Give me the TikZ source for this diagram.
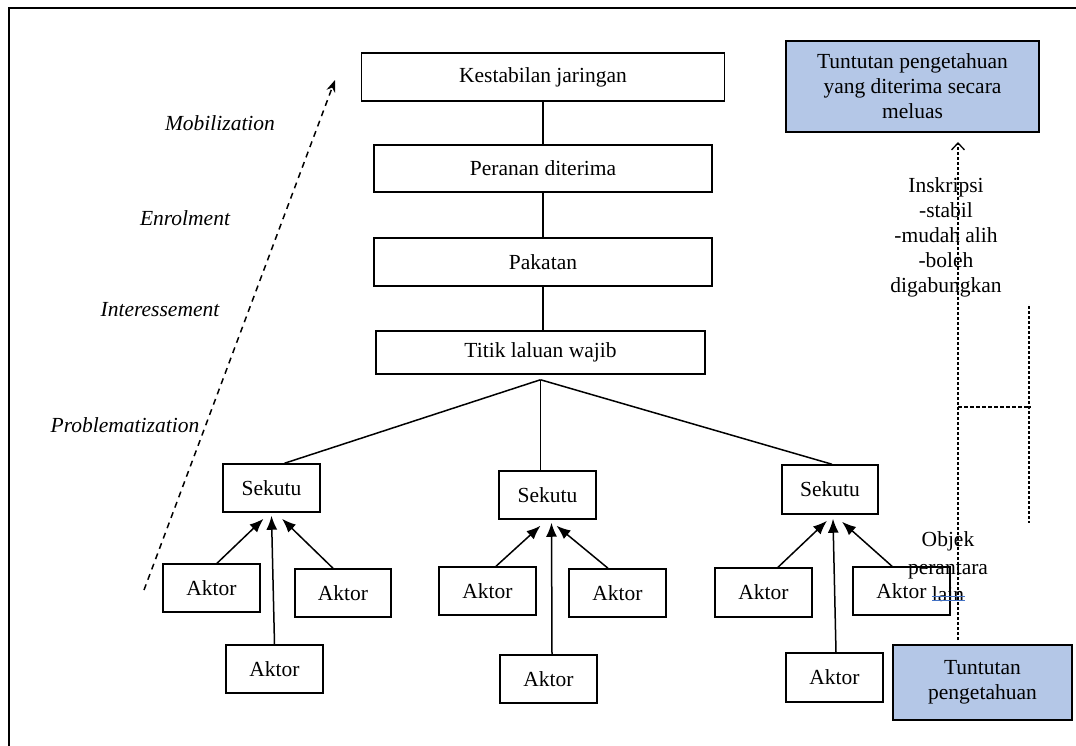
\documentclass[tikz,border=0pt]{standalone}
\usepackage{fontspec}
\setmainfont{Liberation Serif}
\usetikzlibrary{arrows.meta,calc}
\definecolor{boxblue}{HTML}{B4C7E7}
\definecolor{ulblue}{HTML}{4472C4}
\begin{document}
\begin{tikzpicture}[x=1pt,y=-1pt,
  txt/.style={font=\fontsize{21.5}{25}\selectfont},
  itl/.style={font=\fontsize{21.5}{25}\selectfont\itshape},
  box/.style={draw, line width=1.5pt, fill=white, inner sep=0pt, txt},
  bluebox/.style={box, fill=boxblue, align=center},
  link/.style={line width=1.5pt},
  push/.style={line width=1.5pt, -{Latex[length=14pt,width=11pt]}},
  phase/.style={line width=1.5pt, dash pattern=on 6pt off 5pt, -{Stealth[length=12pt,width=9pt]}},
  dotl/.style={line width=1.3pt, dash pattern=on 3pt off 2pt}]
\useasboundingbox (0,0) rectangle (1076,746);
% frame (top and left edges visible)
\draw[line width=1.6pt] (1076,8) -- (9,8) -- (9,746);

% main column
\node[box, minimum width=363pt, minimum height=48pt] (kest) at (543,77) {Kestabilan jaringan};
\node[box, minimum width=338pt, minimum height=47pt] (peran) at (543,168.5) {Peranan diterima};
\node[box, minimum width=338pt, minimum height=48pt] (pak) at (543,262) {Pakatan};
\node[box, minimum width=329pt, minimum height=43pt] (titik) at (540.5,352.5) {Titik laluan wajib};

\draw[link] (kest.south) -- (peran.north);
\draw[link] (peran.south) -- (pak.north);
\draw[link] (pak.south) -- (pak.south |- titik.north);

% allies
\node[box, minimum width=97pt, minimum height=48pt] (sL) at (271.5,488) {Sekutu};
\node[box, minimum width=97pt, minimum height=48pt] (sM) at (547.5,495) {Sekutu};
\node[box, minimum width=96pt, minimum height=49pt] (sR) at (830,489.5) {Sekutu};

\coordinate (hub) at ([yshift=-5pt]titik.south);
\draw[link] (hub) -- ([xshift=13pt]sL.north);
\draw[link] (hub) -- (hub |- sM.north);
\draw[link] (hub) -- ([xshift=2pt]sR.north);

% actors
\node[box, minimum width=97pt, minimum height=48pt] (aLL) at (211.5,588) {Aktor};
\node[box, minimum width=96pt, minimum height=48pt] (aLR) at (343,593) {Aktor};
\node[box, minimum width=97pt, minimum height=48pt] (aLB) at (274.5,669) {Aktor};
\node[box, minimum width=97pt, minimum height=48pt] (aML) at (487.5,591) {Aktor};
\node[box, minimum width=97pt, minimum height=48pt] (aMR) at (617.5,593) {Aktor};
\node[box, minimum width=97pt, minimum height=48pt] (aMB) at (548.5,679) {Aktor};
\node[box, minimum width=97pt, minimum height=49pt] (aRL) at (763.5,592.5) {Aktor};
\node[box, minimum width=97pt, minimum height=48pt] (aRR) at (901.5,591) {Aktor};
\node[box, minimum width=97pt, minimum height=49pt] (aRB) at (834.5,677.5) {Aktor};

\draw[push] ([xshift=5.5pt]aLL.north) -- ([xshift=-8pt,yshift=-6pt]sL.south);
\draw[push] (aLB.north) -- ([yshift=-3pt]sL.south);
\draw[push] ([xshift=-10pt]aLR.north) -- ([xshift=10.5pt,yshift=-6pt]sL.south);

\draw[push] ([xshift=8.5pt]aML.north) -- ([xshift=-7pt,yshift=-6pt]sM.south);
\draw[push] ([xshift=3.5pt]aMB.north) -- ([xshift=4pt,yshift=-3pt]sM.south);
\draw[push] ([xshift=-9.5pt]aMR.north) -- ([xshift=9pt,yshift=-6pt]sM.south);

\draw[push] ([xshift=14.5pt]aRL.north) -- ([xshift=-3pt,yshift=-6pt]sR.south);
\draw[push] ([xshift=1.5pt]aRB.north) -- ([xshift=3pt,yshift=-4pt]sR.south);
\draw[push] ([xshift=-9.5pt]aRR.north) -- ([xshift=12pt,yshift=-7pt]sR.south);

% phases
\coordinate (phB) at (144,590);
\coordinate (phT) at (335,80);
\draw[phase] (phB) -- (phT);
\node[itl] (mob) at (220,123) {Mobilization};
\node[itl] (enr) at (185,218) {Enrolment};
\node[itl] (int) at (160,310) {Interessement};
\node[itl] (prob) at (125,425) {Problematization};

% knowledge claims
\node[bluebox, minimum width=253pt, minimum height=91pt] (top) at (912.5,86.5) {Tuntutan pengetahuan\\yang diterima secara\\meluas};
\node[bluebox, minimum width=179pt, minimum height=75pt] (bot) at (982.5,682.5) {Tuntutan\\pengetahuan};

\coordinate (insB) at (958,640);
\coordinate (insT) at (958,142);
\draw[dotl, -{Straight Barb[length=7pt,width=13pt]}] (insB) -- (insT);
\coordinate (rT) at (1029,306);
\coordinate (rB) at (1029,523);
\draw[dotl] (rT) -- (rB);
\coordinate (hL) at (958,407);
\coordinate (hR) at (1031,407);
\draw[line width=1.3pt, dash pattern=on 4pt off 2pt] (hL) -- (hR);

\node[txt, align=center] (ins) at (946,237) {Inskripsi\\-stabil\\-mudah alih\\-boleh\\digabungkan};
\node[font=\fontsize{21.5}{27.5}\selectfont, align=center] (obj) at (948,567) {Objek\\perantara\\lain};
\draw[ulblue, line width=1pt] (932,596) -- (965,596);
\draw[ulblue, line width=1pt] (932,600) -- (965,600);
\end{tikzpicture}
\end{document}
